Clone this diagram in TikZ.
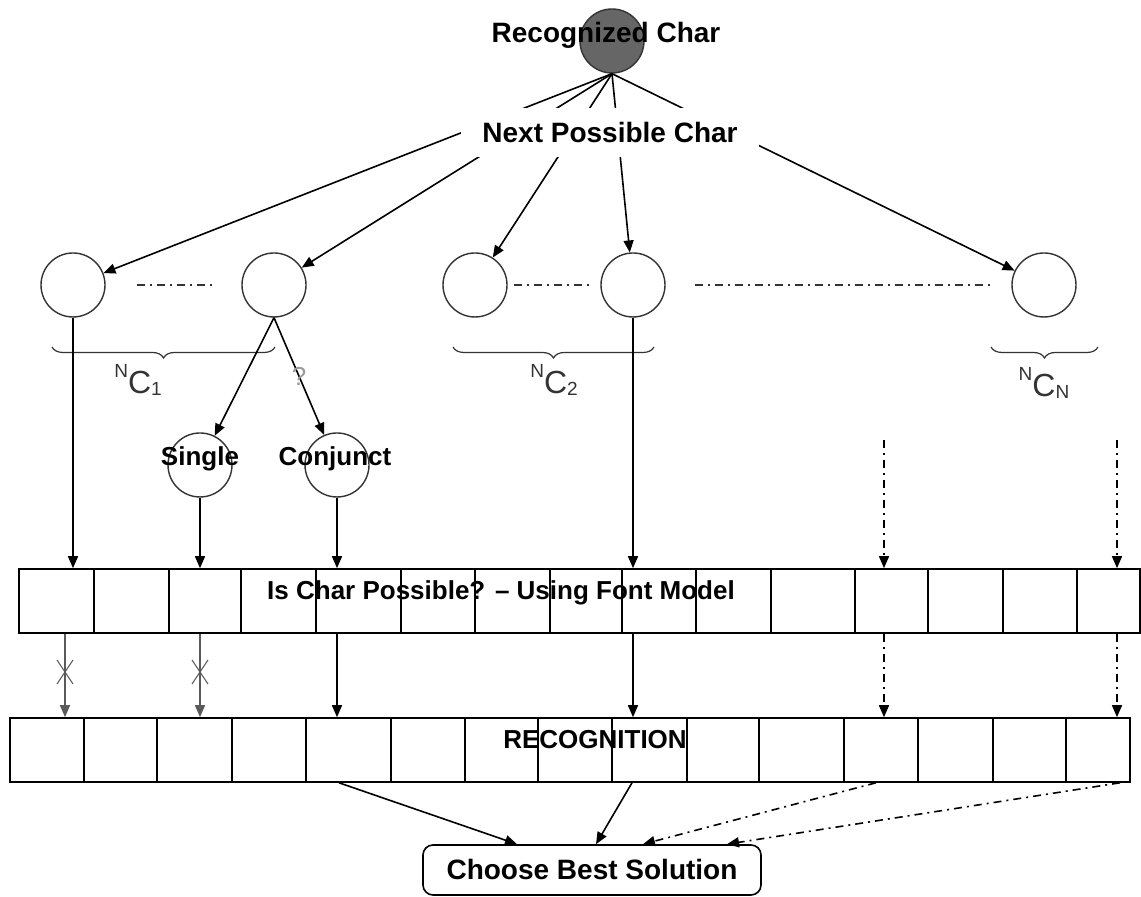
\documentclass[tikz,border=0pt]{standalone}
\usepackage{fontspec}
\setmainfont{Liberation Sans}
\usepackage{xcolor}
\usepackage{tikz}
\usetikzlibrary{positioning, arrows.meta, decorations.pathreplacing}
\definecolor{rootgray}{HTML}{666666}
\definecolor{rimgray}{HTML}{333333}
\definecolor{crossgray}{HTML}{5A5A5A}
\definecolor{qgray}{HTML}{9A9A9A}
\newcommand{\nclabel}[1]{{\fontsize{9.5}{10}\selectfont\raisebox{8pt}{N}}C{\fontsize{9.5}{10}\selectfont\raisebox{-1pt}{#1}}}

\begin{document}
\begin{tikzpicture}[x=0.5pt, y=0.5pt,
  slot/.style={circle, draw=rimgray, line width=0.7pt, fill=white, minimum size=32pt, inner sep=0pt},
  seed/.style={slot, fill=rootgray},
  tag/.style={font=\bfseries\fontsize{14}{16}\selectfont, inner sep=0pt},
  rowtag/.style={font=\bfseries\fontsize{13}{15}\selectfont, inner sep=0pt},
  band/.style={draw, line width=0.8pt, minimum height=32pt, inner sep=0pt},
  link/.style={line width=0.8pt, -{Triangle[length=6pt, width=5pt]}},
  dashdot/.style={dash pattern=on 4pt off 2.5pt on 1pt off 2.5pt},
  maybe/.style={link, dashdot},
  barred/.style={link, crossgray, line width=0.7pt},
  brc/.style={decorate, decoration={brace, amplitude=5.5pt, mirror}, rimgray, line width=0.6pt},
  nclab/.style={font=\fontsize{16}{18}\selectfont, rimgray, inner sep=0pt},
  qmark/.style={font=\fontsize{13}{15}\selectfont, text=qgray, inner sep=0pt},
]
  \useasboundingbox (0,0) rectangle (1141,897);
  % recognized char
  \node[seed] (root) at (612,856) {};
  \node[tag] (rootlab) at (606,862) {Recognized Char};
  % next possible chars
  \node[slot] (c1) at (73,612) {};
  \node[slot] (c2) at (274,612) {};
  \node[slot] (c3) at (475,612) {};
  \node[slot] (c4) at (633,612) {};
  \node[slot] (cn) at (1044,612) {};
  \foreach \c in {c1,c2,c3,c4,cn}
    \draw[link] (root.south) -- (\c);
  \node[tag, fill=white, minimum width=149pt, minimum height=24.5pt] (next) at (610,764) {Next Possible Char};
  \draw[dashdot, rimgray, line width=0.6pt] (137,612) -- (212,612);
  \draw[dashdot, rimgray, line width=0.6pt] (514,612) -- (590,612);
  \draw[dashdot, rimgray, line width=0.6pt] (695,612) -- (993,612);
  % groups
  \draw[brc] (52,550) -- (275,550);
  \node[nclab] (nc1) at (138,517) {\nclabel{1}};
  \draw[brc] (453,550) -- (654,550);
  \node[nclab] (nc2) at (554,517) {\nclabel{2}};
  \draw[brc] (991,550) -- (1098,550);
  \node[nclab] (ncn) at (1044,514) {\nclabel{N}};
  % single or conjunct
  \node[slot] (single) at (200,432) {};
  \node[rowtag] (singlelab) at (200,438) {Single};
  \node[slot] (conj) at (337,432) {};
  \node[rowtag] (conjlab) at (335,438) {Conjunct};
  \draw[link] (c2.south) -- (single);
  \draw[link] (c2.south) -- node[qmark] {?} (conj);
  % font model check
  \node[band, minimum width=560.5pt] (check) at (579.5,296) {};
  \node[rowtag] (checklab) at (501,304) {Is Char Possible? – Using Font Model};
  \foreach \x in {94,169,241,316,401,475,550,622,696,771,855,928,1003,1077}
    \draw[line width=0.8pt] (\x,264) -- (\x,328);
  % recognition
  \node[band, minimum width=560pt] (recog) at (570,147) {};
  \node[rowtag] (recoglab) at (595,157) {RECOGNITION};
  \foreach \x in {84,157,232,306,391,465,538,612,687,759,844,918,993,1066}
    \draw[line width=0.8pt] (\x,115) -- (\x,179);
  \node[tag, draw, rounded corners=5pt, line width=0.8pt, minimum width=169pt, minimum height=25pt] (best) at (592,27) {Choose Best Solution};
  % into the check row
  \coordinate (tailA) at (884,457);
  \coordinate (tailB) at (1117,457);
  \draw[link] (c1.south) -- (c1.south |- check.north);
  \draw[link] (single.south) -- (single.south |- check.north);
  \draw[link] (conj.south) -- (conj.south |- check.north);
  \draw[link] (c4.south) -- (c4.south |- check.north);
  \draw[maybe] (tailA) -- (tailA |- check.north);
  \draw[maybe] (tailB) -- (tailB |- check.north);
  % check to recognition
  \foreach \x in {65,200} {
    \draw[barred] (\x,0 |- check.south) -- (\x,0 |- recog.north);
    \draw[crossgray, line width=0.5pt] ({\x-8},237) -- ({\x+8},213) ({\x-8},213) -- ({\x+8},237);
  }
  \foreach \x in {337,633}
    \draw[link] (\x,0 |- check.south) -- (\x,0 |- recog.north);
  \foreach \x in {884,1117}
    \draw[maybe] (\x,0 |- check.south) -- (\x,0 |- recog.north);
  % best solution
  \draw[link] (339,0 |- recog.south) -- (517,0 |- best.north);
  \draw[link] (632,0 |- recog.south) -- (596,0 |- best.north);
  \draw[maybe] (876,0 |- recog.south) -- (643,0 |- best.north);
  \draw[maybe] (1120,0 |- recog.south) -- (727,0 |- best.north);
\end{tikzpicture}
\end{document}
